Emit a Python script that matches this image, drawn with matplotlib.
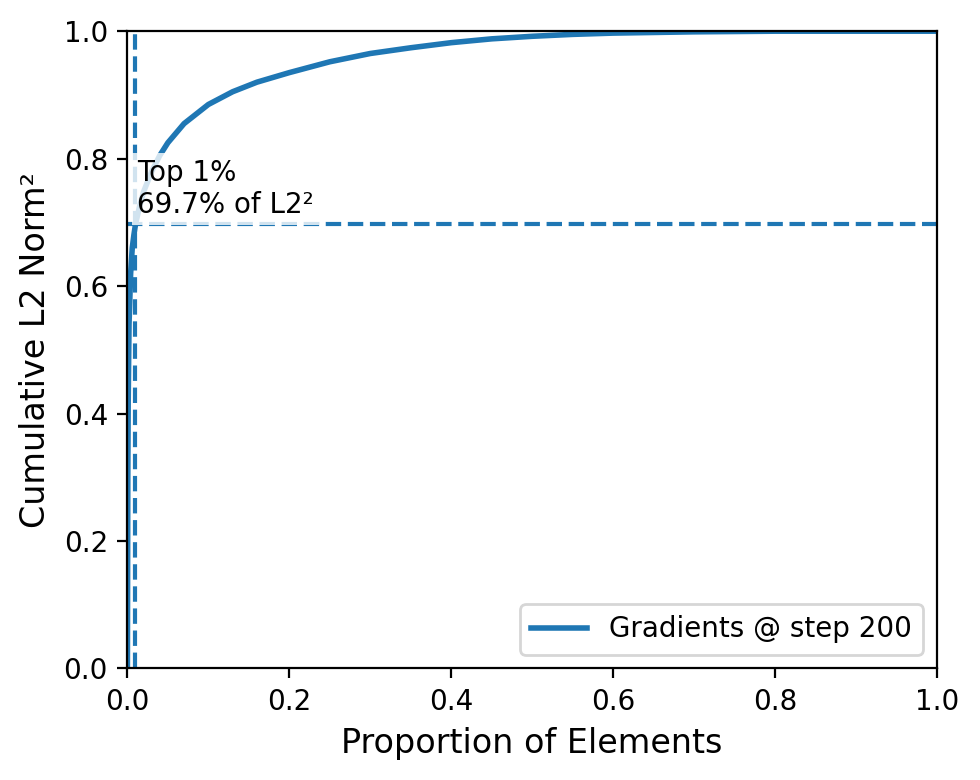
import matplotlib
matplotlib.use("Agg")
import matplotlib.pyplot as plt

# cumulative share of squared L2 norm vs. proportion of elements
prop = [0.0, 0.0005, 0.001, 0.002, 0.004, 0.006, 0.008, 0.01, 0.015, 0.02, 0.03,
        0.04, 0.05, 0.07, 0.1, 0.13, 0.16, 0.2, 0.25, 0.3, 0.35, 0.4, 0.45,
        0.5, 0.55, 0.6, 0.65, 0.7, 0.8, 0.9, 1.0]
cum = [0.0, 0.30, 0.42, 0.54, 0.62, 0.66, 0.68, 0.697, 0.725, 0.748, 0.78,
       0.805, 0.825, 0.855, 0.885, 0.905, 0.92, 0.935, 0.952, 0.965, 0.974,
       0.982, 0.988, 0.992, 0.995, 0.997, 0.998, 0.999, 1.0, 1.0, 1.0]
top_frac = 0.01
top_share = 0.697
label = "Gradients @ step 200"

fig, ax = plt.subplots(figsize=(4.9, 3.9), dpi=200)
ax.plot(prop, cum, color="#1f77b4", lw=2, label=label)
ax.axvline(top_frac, color="#1f77b4", ls="--", lw=1.5)
ax.axhline(top_share, color="#1f77b4", ls="--", lw=1.5)
ax.text(top_frac + 0.002, top_share + 0.008,
        "Top 1%\n{:.1f}% of L2\u00b2".format(top_share * 100),
        fontsize=10, va="bottom", ha="left",
        bbox=dict(facecolor="white", edgecolor="none", alpha=0.8, pad=2))
ax.set_xlim(0, 1)
ax.set_ylim(0, 1)
ax.set_xlabel("Proportion of Elements", fontsize=12)
ax.set_ylabel("Cumulative L2 Norm\u00b2", fontsize=12)
ax.legend(loc="lower right")
fig.subplots_adjust(left=0.13, right=0.956, top=0.96, bottom=0.143)
fig.savefig("out.png")
